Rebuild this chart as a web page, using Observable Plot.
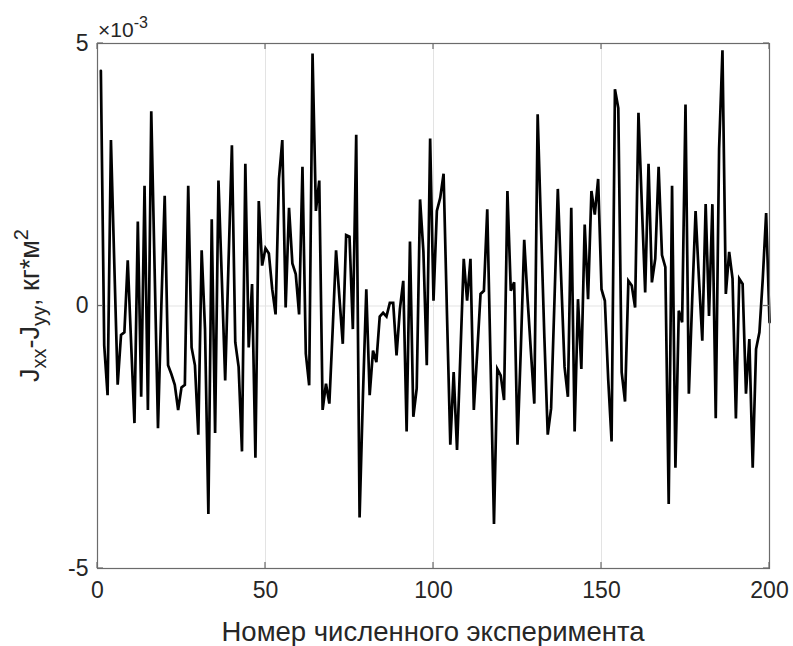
<!DOCTYPE html>
<html>
<head>
<meta charset="utf-8">
<script src="https://cdn.jsdelivr.net/npm/d3@7"></script>
<script src="https://cdn.jsdelivr.net/npm/@observablehq/plot@0.6"></script>
<style>
  html, body { margin: 0; padding: 0; background: white; }
  #chart { width: 793px; height: 646px; }
</style>
</head>
<body>
<div id="chart"></div>
<script>
// Values of Jxx - Jyy (in units of 1e-3 kg*m^2) for experiments 1..200
const values = [
  4.48, -0.75, -1.70, 3.16, 0.80, -1.50, -0.55, -0.50, 0.87, -0.70,
  -2.23, 1.61, -1.73, 2.29, -1.98, 3.71, 0.70, -2.33, 0.00, 2.10,
  -1.13, -1.30, -1.50, -1.98, -1.55, -1.50, 2.29, -0.79, -1.13, -2.45,
  1.06, -0.44, -3.96, 1.65, -2.42, 2.39, 0.52, -1.42, 0.84, 3.06,
  -0.69, -1.16, -2.77, 2.71, -0.79, 0.42, -2.89, 2.00, 0.77, 1.10,
  1.00, 0.32, -0.16, 2.42, 3.16, -0.03, 1.87, 0.81, 0.61, -0.16,
  2.65, -0.91, -1.51, 4.81, 1.81, 2.39, -1.98, -1.48, -1.86, -0.44,
  1.06, 0.16, -0.72, 1.35, 1.32, -0.44, 3.26, -4.03, -1.70, 0.32,
  -1.70, -0.85, -1.07, -0.20, -0.13, -0.20, 0.06, 0.06, -0.94, -0.06,
  0.48, -2.39, 1.23, -2.11, -1.57, 2.03, 1.03, -1.13, 3.19, 0.10,
  1.81, 2.06, 2.52, -0.13, -2.64, -1.26, -2.74, -0.94, 0.90, 0.10,
  0.90, -1.98, -0.90, 0.23, 0.29, 1.84, -1.13, -4.15, -1.20, -1.32,
  -1.79, 2.19, 0.29, 0.45, -2.64, -0.80, 1.26, 0.13, -0.88, -1.86,
  3.65, 1.50, -0.60, -2.45, -1.95, 0.10, 2.23, 0.52, -1.16, -1.73,
  1.87, -2.39, 0.13, -1.20, 1.55, 0.13, 2.19, 1.74, 2.42, 0.32,
  0.10, -1.40, -2.58, 4.13, 3.77, -1.26, -1.82, 0.48, 0.39, -0.03,
  3.68, 1.94, 0.26, 2.71, 0.45, 0.90, 2.65, 0.97, 0.74, -3.77,
  2.29, -3.08, -0.09, -0.31, 3.84, -1.67, 0.13, 1.81, 0.52, -0.66,
  1.94, -0.19, 1.94, -2.14, 3.00, 4.87, 0.23, 1.03, 0.52, -2.14,
  0.52, 0.42, -1.67, -0.63, -3.08, -0.82, -0.50, 0.52, 1.77, -0.31
];
const experiments = values.map((_, i) => i + 1);
const xTicks = [0, 50, 100, 150, 200];
const yTicks = [-5, 0, 5];
const xLabel = "Номер численного эксперимента";
const exponentBase = "×10";
const exponentPower = "-3";

const data = experiments.map((x, i) => ({x, y: values[i]}));

const textColor = "#262626";
const boxColor = "#6b6b6b";
const gridColor = "#e3e3e3";
const fontFamily = "'Liberation Sans', Arial, Helvetica, sans-serif";

const chart = Plot.plot({
  width: 793,
  height: 646,
  marginLeft: 97,
  marginRight: 24,
  marginTop: 43,
  marginBottom: 78,
  style: {fontFamily, fontSize: "23px", color: textColor, background: "white", overflow: "visible"},
  x: {domain: [0, 200], label: null},
  y: {domain: [-5, 5], label: null},
  marks: [
    Plot.gridX(xTicks, {stroke: gridColor, strokeOpacity: 1, strokeWidth: 1}),
    Plot.gridY(yTicks, {stroke: gridColor, strokeOpacity: 1, strokeWidth: 1}),
    Plot.line(data, {x: "x", y: "y", stroke: "black", strokeWidth: 2.7, strokeLinejoin: "miter", strokeMiterlimit: 4}),
    Plot.frame({stroke: boxColor, strokeWidth: 1.2}),
    Plot.axisX(xTicks, {tickSize: 0, tickPadding: 13, tickFormat: d => String(d), fill: textColor, fontSize: 23}),
    Plot.axisY(yTicks, {tickSize: 0, tickPadding: 9, tickFormat: d => String(d), fill: textColor, fontSize: 23})
  ]
});

document.getElementById("chart").appendChild(chart);

const svg = d3.select(chart);
const sx = chart.scale("x");
const sy = chart.scale("y");
const x0 = sx.apply(0), x1 = sx.apply(200);
const y0 = sy.apply(-5), y1 = sy.apply(5);
const tl = 6;

// inward ticks on all four sides (MATLAB box style)
const tg = svg.append("g").attr("stroke", boxColor).attr("stroke-width", 1.2);
xTicks.forEach(t => {
  const px = sx.apply(t);
  tg.append("line").attr("x1", px).attr("x2", px).attr("y1", y0).attr("y2", y0 - tl);
  tg.append("line").attr("x1", px).attr("x2", px).attr("y1", y1).attr("y2", y1 + tl);
});
yTicks.forEach(t => {
  const py = sy.apply(t);
  tg.append("line").attr("x1", x0).attr("x2", x0 + tl).attr("y1", py).attr("y2", py);
  tg.append("line").attr("x1", x1).attr("x2", x1 - tl).attr("y1", py).attr("y2", py);
});

// x label
svg.append("text")
  .attr("x", (x0 + x1) / 2)
  .attr("y", 641)
  .attr("text-anchor", "middle")
  .attr("font-family", fontFamily)
  .attr("font-size", 27.5)
  .attr("fill", textColor)
  .text(xLabel);

// exponent label
const ex = svg.append("text")
  .attr("x", x0 + 1)
  .attr("y", y1 - 6)
  .attr("text-anchor", "start")
  .attr("font-family", fontFamily)
  .attr("font-size", 21)
  .attr("fill", textColor);
ex.append("tspan").text(exponentBase);
ex.append("tspan").attr("dy", -9).attr("font-size", 16).text(exponentPower);

// y label with subscripts/superscript
const yl = svg.append("text")
  .attr("transform", `translate(39,${(y0 + y1) / 2}) rotate(-90)`)
  .attr("text-anchor", "middle")
  .attr("font-family", fontFamily)
  .attr("font-size", 27)
  .attr("fill", textColor);
yl.append("tspan").text("J");
yl.append("tspan").attr("dy", 7).attr("font-size", 20).text("xx");
yl.append("tspan").attr("dy", -7).text("-J");
yl.append("tspan").attr("dy", 7).attr("font-size", 20).text("yy");
yl.append("tspan").attr("dy", -7).text(", кг*м");
yl.append("tspan").attr("dy", -11).attr("font-size", 20).text("2");
</script>
</body>
</html>
